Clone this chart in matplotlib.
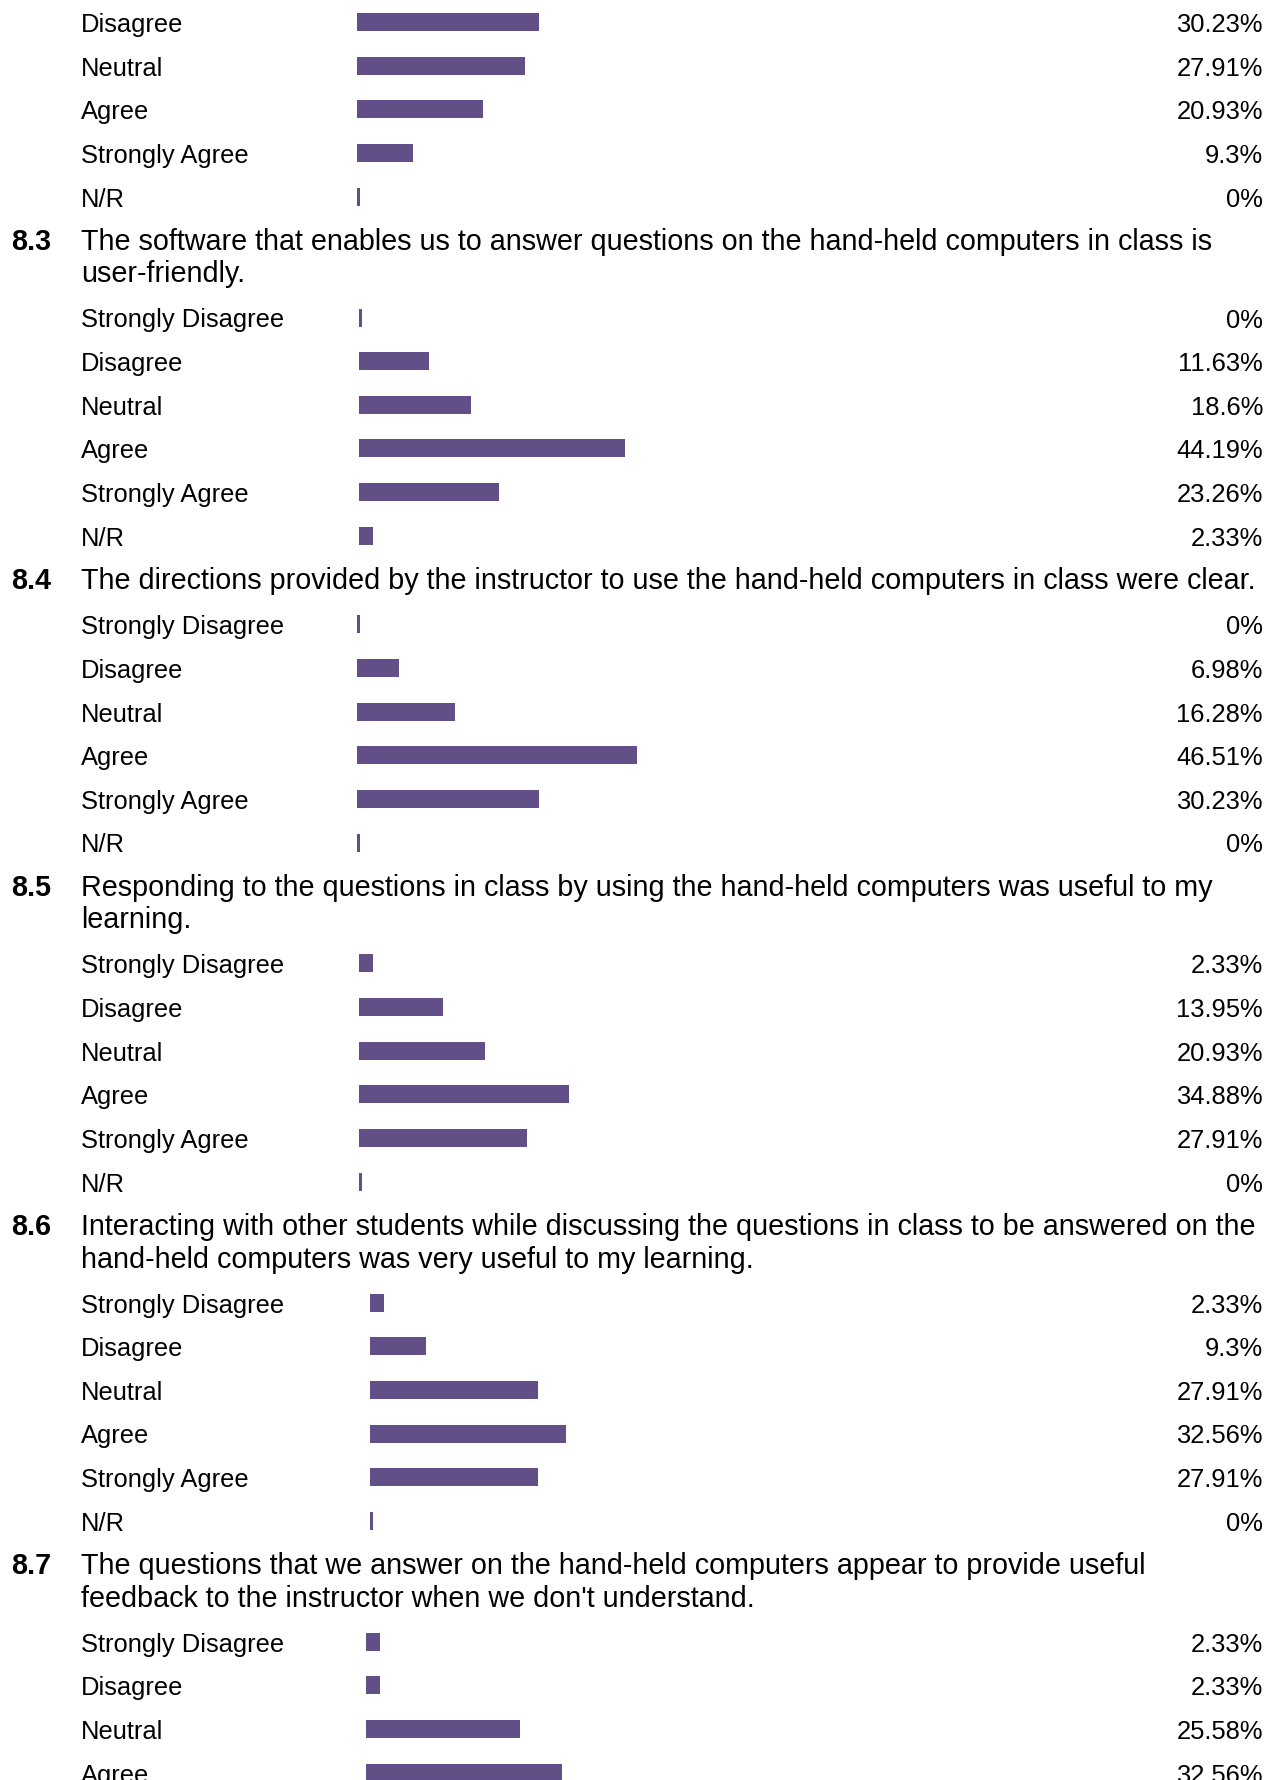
"""Survey results, section 8: agreement bars per question (page crop)."""
import matplotlib
matplotlib.use("Agg")
import matplotlib.pyplot as plt

plt.rcParams["font.family"] = ["Liberation Sans", "DejaVu Sans"]

# ---- data ----------------------------------------------------------------
SCALE = ["Strongly Disagree", "Disagree", "Neutral", "Agree",
         "Strongly Agree", "N/R"]

# first block is cut off at the top of the page: only the last five rows show
q82_labels = SCALE[1:]
q82_pct = [30.23, 27.91, 20.93, 9.3, 0]

q83_text = ["The software that enables us to answer questions on the hand-held computers in class is",
            "user-friendly."]
q83_pct = [0, 11.63, 18.6, 44.19, 23.26, 2.33]

q84_text = ["The directions provided by the instructor to use the hand-held computers in class were clear."]
q84_pct = [0, 6.98, 16.28, 46.51, 30.23, 0]

q85_text = ["Responding to the questions in class by using the hand-held computers was useful to my",
            "learning."]
q85_pct = [2.33, 13.95, 20.93, 34.88, 27.91, 0]

q86_text = ["Interacting with other students while discussing the questions in class to be answered on the",
            "hand-held computers was very useful to my learning."]
q86_pct = [2.33, 9.3, 27.91, 32.56, 27.91, 0]

# last block is cut off at the bottom
q87_text = ["The questions that we answer on the hand-held computers appear to provide useful",
            "feedback to the instructor when we don't understand."]
q87_labels = SCALE[:4]
q87_pct = [2.33, 2.33, 25.58, 32.56]

# ---- layout (pixels) -----------------------------------------------------
W, H = 1273, 1781
BAR_COLOR = "#634f88"
PX_PER_PCT = 6.02
BAR_H = 18
MIN_W = 3
ROW = 43.65
GAP_HEAD = 52.5      # last row centre -> heading baseline
HEAD_LINE = 32.4
GAP_ROWS = 36        # heading baseline -> first row centre
FS = 18.4            # row labels and percentages
FS_HEAD = 20.7       # question text

blocks = [
    ("8.2", None, q82_labels, q82_pct, 357),
    ("8.3", q83_text, SCALE, q83_pct, 359),
    ("8.4", q84_text, SCALE, q84_pct, 357),
    ("8.5", q85_text, SCALE, q85_pct, 359),
    ("8.6", q86_text, SCALE, q86_pct, 370),
    ("8.7", q87_text, q87_labels, q87_pct, 366),
]

fig = plt.figure(figsize=(W / 100, H / 100), dpi=100)
ax = fig.add_axes([0, 0, 1, 1])
ax.set_xlim(0, W)
ax.set_ylim(H, 0)
ax.axis("off")

y = 23 - ROW  # centre of the row before the first visible one
for num, text, labels, pct, x0 in blocks:
    if text is not None:
        base = y + GAP_HEAD
        ax.text(11, base, num, fontsize=FS_HEAD, fontweight="bold", va="baseline")
        for line in text:
            ax.text(81, base, line, fontsize=FS_HEAD, va="baseline")
            base += HEAD_LINE
        y = base - HEAD_LINE + GAP_ROWS - ROW
    ys = [y + ROW * (i + 1) for i in range(len(labels))]
    widths = [max(p * PX_PER_PCT, MIN_W) for p in pct]
    ax.barh(ys, widths, left=x0, height=BAR_H, color=BAR_COLOR)
    for yy, lab, p in zip(ys, labels, pct):
        ax.text(81, yy + 9, lab, fontsize=FS, va="baseline")
        ax.text(1263, yy + 9, f"{p:g}%", fontsize=FS, ha="right", va="baseline")
    y = ys[-1]

fig.savefig("out.png", dpi=100)
